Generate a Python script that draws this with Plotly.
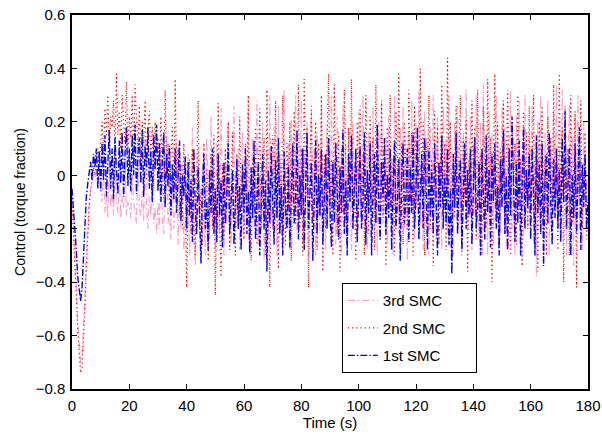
import numpy as np
import plotly.graph_objects as go

# Time axis (s), 0.5 s sampling
time_s = np.arange(0, 180.5, 0.5)

# 1st SMC (blue, dash-dot)
smc1 = [
    -0.05, -0.12, -0.2, -0.28, -0.38, -0.44, -0.47, -0.42, -0.3, -0.2, -0.08, -0.03, 0.02, 0.05, -0.02, 0.08, 0.03, 0.1, -0.05, 0.09,
    -0.06, 0.12, -0.02, 0.15, -0.08, 0.06, 0.17, -0.05, 0.1, -0.09, 0.14, 0.02, -0.07, 0.13, -0.03, 0.16, -0.08, 0.08, 0.18, -0.04,
    0.1, -0.06, 0.15, 0.0, 0.19, -0.07, 0.08, 0.14, -0.03, 0.17, -0.08, 0.11, 0.03, 0.18, -0.05, 0.09, -0.1, 0.15, 0.02, 0.19,
    -0.06, 0.12, -0.1, 0.05, 0.16, -0.12, 0.08, -0.04, 0.11, -0.15, 0.04, -0.09, 0.1, -0.14, 0.02, 0.13, -0.17, 0.0, -0.08, 0.07,
    -0.2, 0.05, -0.15, -0.02, -0.25, 0.1, -0.12, -0.22, 0.03, -0.18, -0.33, -0.05, 0.08, -0.2, -0.1, -0.28, 0.02, -0.14, 0.1, -0.22,
    -0.05, -0.25, 0.08, -0.15, -0.02, -0.27, 0.05, -0.18, -0.08, 0.12, -0.22, -0.1, 0.02, -0.26, -0.12, 0.06, -0.2, -0.04, -0.28, 0.04,
    -0.14, 0.1, -0.22, -0.06, -0.29, 0.03, -0.16, 0.13, -0.24, -0.08, 0.05, -0.3, -0.12, 0.08, -0.2, -0.02, -0.36, 0.02, -0.18, 0.11,
    -0.1, -0.26, 0.06, -0.16, 0.14, -0.22, -0.04, -0.3, 0.09, -0.13, -0.2, 0.04, -0.27, -0.06, 0.12, -0.18, -0.1, 0.17, -0.24, 0.0,
    -0.15, 0.1, -0.28, -0.05, 0.16, -0.2, -0.1, 0.05, -0.32, -0.08, 0.13, -0.22, 0.0, -0.15, 0.1, -0.26, -0.04, 0.08, -0.2, 0.14,
    -0.12, -0.27, 0.05, -0.18, 0.12, -0.08, -0.24, 0.03, -0.14, 0.17, -0.22, -0.02, -0.3, 0.08, -0.1, 0.15, -0.2, -0.05, 0.1, -0.25,
    -0.03, 0.11, -0.2, -0.1, 0.16, -0.26, 0.02, -0.14, 0.12, -0.3, -0.06, 0.08, -0.18, 0.19, -0.12, -0.24, 0.05, -0.08, 0.14, -0.22,
    0.0, -0.16, 0.1, -0.28, -0.05, 0.13, -0.2, -0.1, 0.06, -0.32, -0.02, 0.12, -0.18, -0.08, 0.1, -0.25, 0.03, -0.14, 0.16, -0.2,
    -0.06, 0.18, -0.24, -0.1, 0.08, -0.2, 0.14, -0.04, -0.28, 0.1, -0.15, 0.02, -0.22, 0.12, -0.08, -0.3, 0.05, -0.12, 0.15, -0.2,
    0.0, -0.18, 0.1, -0.26, -0.05, -0.37, 0.08, -0.12, 0.16, -0.22, -0.02, 0.06, -0.28, -0.1, 0.12, -0.2, 0.02, -0.15, 0.1, -0.26,
    -0.06, 0.14, -0.2, -0.12, 0.05, -0.3, 0.1, -0.08, -0.24, 0.15, -0.14, 0.02, -0.27, 0.08, -0.1, 0.12, -0.2, -0.04, -0.3, 0.06,
    -0.12, 0.17, -0.22, 0.0, -0.28, 0.1, -0.15, 0.22, -0.08, -0.25, 0.05, -0.18, 0.13, -0.3, -0.04, 0.18, -0.2, 0.02, -0.12, 0.08,
    -0.24, 0.1, -0.06, -0.3, 0.15, -0.14, 0.04, -0.22, 0.12, -0.34, -0.02, 0.08, -0.18, 0.16, -0.1, -0.26, 0.06, -0.16, 0.1, -0.2,
    0.02, -0.25, 0.14, -0.1, 0.24, -0.2, -0.04, 0.1, -0.3, 0.0, -0.16, 0.12, -0.22, -0.06, 0.18, -0.28, 0.04, -0.12, 0.08, -0.2,
    -0.1,
]

# 2nd SMC (red, dotted)
smc2 = [
    -0.1, -0.2, -0.32, -0.45, -0.58, -0.68, -0.74, -0.72, -0.62, -0.5, -0.35, -0.22, -0.12, -0.06, -0.02, 0.03, 0.0, 0.06, 0.1, 0.04,
    0.12, 0.2, 0.08, 0.25, 0.15, 0.3, 0.1, 0.22, 0.18, 0.28, 0.06, 0.38, 0.15, 0.24, 0.1, 0.3, 0.2, 0.12, 0.35, 0.08,
    0.22, 0.14, 0.3, 0.05, 0.34, 0.18, 0.1, 0.26, 0.02, 0.2, 0.12, 0.28, -0.02, 0.16, 0.24, 0.06, 0.18, -0.05, 0.2, 0.1,
    0.14, -0.04, 0.22, 0.04, -0.1, 0.32, 0.0, 0.12, -0.12, 0.08, 0.18, -0.08, 0.36, -0.02, 0.1, -0.15, 0.05, -0.2, 0.12, -0.06,
    -0.42, -0.1, 0.06, -0.22, 0.1, -0.16, -0.3, 0.0, 0.28, -0.2, -0.05, -0.26, 0.12, -0.1, 0.02, -0.32, -0.08, 0.08, -0.2, 0.15,
    -0.45, -0.12, 0.27, -0.18, -0.38, 0.04, -0.24, 0.1, -0.06, 0.2, -0.28, -0.02, 0.16, -0.14, -0.3, 0.08, -0.2, 0.22, -0.1, 0.02,
    -0.24, 0.12, -0.05, 0.3, -0.18, -0.32, 0.06, -0.12, 0.18, -0.26, 0.0, 0.25, -0.2, -0.08, 0.14, -0.3, 0.32, -0.14, -0.42, 0.05,
    0.15, -0.22, 0.28, -0.1, -0.35, 0.08, -0.16, 0.3, -0.04, -0.26, 0.12, -0.12, 0.2, -0.32, 0.02, 0.24, -0.18, -0.06, 0.34, -0.2,
    0.1, -0.3, 0.36, -0.08, 0.18, -0.42, 0.04, 0.26, -0.16, -0.02, 0.2, -0.28, 0.12, -0.12, 0.3, -0.36, 0.08, -0.2, 0.14, 0.38,
    -0.12, 0.06, -0.3, 0.34, -0.06, -0.22, 0.16, -0.36, 0.1, -0.14, 0.32, -0.02, -0.26, 0.18, -0.1, 0.36, -0.2, 0.0, -0.32, 0.2,
    -0.08, 0.26, -0.18, 0.08, -0.3, 0.3, -0.04, -0.22, 0.22, -0.12, 0.14, -0.28, 0.34, -0.06, 0.04, -0.24, 0.28, -0.16, 0.1, -0.34,
    0.18, -0.1, 0.3, -0.2, 0.06, -0.3, 0.24, -0.04, 0.38, -0.16, 0.12, -0.26, 0.2, 0.0, -0.2, 0.32, -0.08, 0.16, -0.3, 0.26,
    -0.12, 0.1, -0.24, 0.4, -0.06, 0.2, -0.3, 0.14, -0.02, 0.3, -0.2, 0.06, -0.34, 0.24, -0.1, 0.18, -0.26, 0.02, 0.34, -0.14,
    0.12, -0.28, 0.44, -0.04, 0.2, -0.32, 0.08, -0.16, 0.26, -0.22, 0.0, 0.3, -0.3, 0.14, -0.08, 0.22, -0.36, 0.06, -0.14, 0.28,
    -0.04, 0.18, -0.24, 0.32, -0.12, 0.08, -0.3, 0.26, -0.02, -0.2, 0.36, -0.1, 0.14, -0.4, 0.04, 0.38, -0.16, 0.2, -0.26, 0.1,
    -0.06, 0.28, -0.22, 0.04, 0.32, -0.14, -0.3, 0.2, -0.04, 0.12, -0.26, 0.3, -0.1, 0.06, -0.34, 0.24, -0.08, 0.16, -0.2, 0.26,
    -0.12, 0.02, 0.3, -0.24, 0.12, -0.36, 0.2, -0.06, 0.26, -0.16, 0.08, -0.3, 0.22, -0.02, 0.14, -0.22, 0.34, -0.1, 0.06, -0.28,
    0.38, -0.14, 0.18, -0.4, 0.26, -0.06, 0.1, -0.3, 0.3, -0.18, 0.04, 0.24, -0.42, 0.12, -0.08, 0.28, -0.2, 0.02, 0.16, -0.24,
    -0.1,
]

# 3rd SMC (pink, dash-dot)
smc3 = [
    -0.08, -0.18, -0.3, -0.42, -0.55, -0.65, -0.7, -0.68, -0.58, -0.45, -0.3, -0.18, -0.1, -0.05, -0.03, 0.0, -0.02, 0.03, 0.06, 0.02,
    -0.05, -0.1, 0.02, -0.14, -0.08, -0.16, 0.04, -0.12, -0.06, -0.15, 0.1, -0.1, -0.14, 0.0, -0.16, -0.08, -0.12, 0.06, -0.15, -0.1,
    -0.12, -0.16, 0.02, -0.1, -0.14, -0.18, 0.08, -0.12, -0.15, -0.06, -0.17, 0.14, -0.12, -0.2, -0.08, -0.15, 0.0, -0.18, -0.12, -0.22,
    -0.1, -0.2, 0.1, -0.16, -0.22, -0.06, 0.15, -0.18, -0.12, -0.24, 0.02, -0.2, -0.14, 0.12, -0.26, -0.1, -0.2, 0.05, -0.28, -0.16,
    -0.22, 0.08, -0.3, -0.12, 0.18, -0.24, -0.34, -0.06, 0.1, -0.2, -0.26, 0.04, -0.16, -0.3, 0.14, -0.1, -0.24, 0.22, -0.18, -0.08,
    -0.28, 0.12, -0.14, -0.22, 0.25, -0.06, -0.3, 0.08, -0.18, 0.2, -0.1, -0.26, 0.02, 0.26, -0.2, -0.08, 0.1, -0.28, -0.12, 0.16,
    -0.22, 0.05, -0.16, 0.24, -0.3, -0.04, 0.14, -0.2, -0.1, 0.28, -0.26, 0.0, -0.14, 0.2, -0.32, -0.06, 0.1, -0.22, 0.3, -0.12,
    -0.2, 0.18, -0.08, -0.3, 0.26, -0.14, 0.04, -0.24, 0.32, -0.1, -0.2, 0.12, -0.28, 0.22, -0.04, -0.16, 0.3, -0.22, 0.06, -0.12,
    0.28, -0.26, 0.08, -0.14, 0.2, -0.32, -0.02, 0.24, -0.18, 0.1, -0.3, 0.16, -0.08, -0.22, 0.26, -0.12, 0.04, -0.28, 0.18, -0.06,
    -0.2, 0.3, -0.1, 0.06, -0.26, 0.22, -0.16, 0.0, -0.3, 0.26, -0.08, 0.12, -0.22, 0.18, -0.04, -0.28, 0.2, -0.12, 0.08, -0.24,
    0.24, -0.06, -0.18, 0.3, -0.1, 0.1, -0.28, 0.16, -0.02, -0.22, 0.26, -0.14, 0.04, -0.3, 0.2, -0.08, 0.28, -0.18, -0.04, 0.14,
    -0.26, 0.22, -0.1, 0.06, -0.3, 0.3, -0.16, 0.02, -0.22, 0.18, -0.06, 0.26, -0.2, 0.1, -0.32, 0.16, -0.12, 0.28, -0.04, -0.24,
    0.2, -0.1, 0.32, -0.18, 0.04, -0.28, 0.24, -0.06, 0.12, -0.3, 0.18, -0.14, 0.3, -0.02, -0.24, 0.22, -0.1, 0.06, -0.28, 0.26,
    -0.08, 0.14, -0.22, 0.3, -0.12, 0.02, -0.3, 0.2, -0.06, 0.26, -0.18, 0.08, -0.26, 0.16, -0.1, 0.32, -0.2, 0.0, 0.22, -0.28,
    0.12, -0.14, 0.3, -0.04, -0.24, 0.2, -0.1, 0.34, -0.2, 0.06, -0.3, 0.24, -0.08, 0.16, -0.26, 0.02, 0.3, -0.16, 0.1, -0.22,
    0.26, -0.06, 0.18, -0.28, 0.12, -0.12, 0.32, -0.2, 0.04, -0.3, 0.22, -0.1, 0.28, -0.16, 0.08, -0.24, 0.3, -0.04, -0.2, 0.14,
    -0.1, 0.26, -0.26, 0.06, -0.38, 0.2, -0.14, 0.3, -0.04, -0.22, 0.16, -0.12, 0.28, -0.3, 0.1, -0.18, 0.24, -0.06, 0.34, -0.16,
    0.1, -0.24, 0.32, -0.1, 0.18, -0.3, 0.04, 0.26, -0.18, 0.14, -0.34, 0.22, -0.08, 0.3, -0.2, 0.06, -0.28, 0.2, -0.12, -0.02,
    -0.1,
]

series_names = ["3rd SMC", "2nd SMC", "1st SMC"]
x_ticks = [0, 20, 40, 60, 80, 100, 120, 140, 160, 180]
y_ticks = [-0.8, -0.6, -0.4, -0.2, 0, 0.2, 0.4, 0.6]

FONT = "Liberation Sans, Arial, sans-serif"

fig = go.Figure()
styles = [
    (smc3, "rgb(255,160,200)", "7px,3px,1.5px,3px", 1.2),
    (smc2, "rgb(255,0,0)", "1.2px,3px", 1.2),
    (smc1, "rgb(0,0,255)", "7px,2px,1.5px,2px", 1.4),
]
for name, (vals, color, dash, w) in zip(series_names, styles):
    fig.add_trace(go.Scatter(
        x=time_s, y=vals, mode="lines", name=name + "\u00a0\u00a0\u00a0\u00a0\u00a0\u00a0", legendgroup=name,
        line=dict(color=color, width=w, dash=dash),
    ))

axis_common = dict(
    showline=True, linecolor="black", linewidth=1.5, mirror="ticks",
    ticks="inside", ticklen=5, tickcolor="black", tickwidth=1, showgrid=False, zeroline=False,
    automargin=False,
    tickfont=dict(family=FONT, size=15, color="black"),
)

fig.update_layout(
    width=602, height=435,
    margin=dict(l=72, r=14, t=15, b=46),
    paper_bgcolor="white", plot_bgcolor="white",
    font=dict(family=FONT, size=15, color="black"),
    xaxis=dict(range=[0, 180], tickvals=x_ticks, ticklabelstandoff=2,
               title=dict(text="Time (s)", standoff=4, font=dict(size=15)), **axis_common),
    yaxis=dict(range=[-0.8, 0.6], tickvals=y_ticks, ticklabelstandoff=2,
               title=dict(text="Control (torque fraction)", standoff=7, font=dict(size=14)), **axis_common),
    legend=dict(x=0.523, y=0.283, xanchor="left", yanchor="top",
                bgcolor="white", bordercolor="black", borderwidth=1,
                traceorder="grouped", tracegroupgap=5,
                font=dict(size=15)),
)

fig.write_html("out.html", config={"displayModeBar": False},
               post_script="document.body.style.margin='0';")
